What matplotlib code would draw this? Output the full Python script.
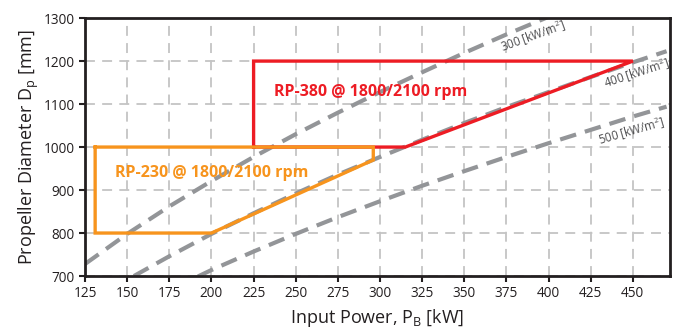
import matplotlib
matplotlib.use("Agg")
import matplotlib.pyplot as plt
from matplotlib import font_manager

fams = {f.name for f in font_manager.fontManager.ttflist}
base = 'Liberation Sans Narrow' if 'Liberation Sans Narrow' in fams else 'Open Sans'
plt.rcParams['font.family'] = [base, 'DejaVu Sans']
plt.rcParams['mathtext.fontset'] = 'custom'
plt.rcParams['mathtext.rm'] = base

# Power-density curves
p300 = [125, 150, 175, 200, 225, 250, 275, 300, 325, 350, 375, 400]
d300 = [728, 798, 862, 921, 977, 1030, 1080, 1128, 1174, 1219, 1262, 1303]
p400 = [154, 175, 200, 225, 250, 275, 300, 325, 350, 375, 400, 425, 450, 470]
d400 = [700, 746, 798, 846, 892, 936, 977, 1017, 1056, 1093, 1128, 1163, 1197, 1223]
p500 = [192, 200, 225, 250, 275, 300, 325, 350, 375, 400, 425, 450, 470]
d500 = [699, 714, 757, 798, 837, 874, 910, 944, 977, 1009, 1040, 1071, 1094]

# Operating envelopes
rp380_p = [225, 225, 450, 315, 296, 225]
rp380_d = [1000, 1200, 1200, 1000, 1000, 1000]
rp230_p = [131, 296, 296, 200, 131, 131]
rp230_d = [1000, 1000, 970, 800, 800, 1000]

xticks = list(range(125, 451, 25))
yticks = list(range(700, 1301, 100))

fig = plt.figure(figsize=(6.77, 3.29), dpi=100)
ax = fig.add_axes([0.1256, 0.161, 0.864, 0.784])

grid_c = '#c4c4c4'
for x in xticks:
    ax.axvline(x, color=grid_c, lw=1.3, ls=(0, (5.5, 4)), zorder=1)
for y in yticks:
    ax.axhline(y, color=grid_c, lw=1.3, ls=(0, (5.5, 4)), zorder=1)

curve_c = '#939598'
for p, d in [(p300, d300), (p400, d400), (p500, d500)]:
    ax.plot(p, d, color=curve_c, lw=3.0, ls=(0, (4, 2.2)), zorder=2, solid_capstyle='butt')

red = '#ED1C24'
orange = '#F7941D'
ax.plot(rp380_p, rp380_d, color=red, lw=2.4, zorder=3, solid_joinstyle='miter')
ax.plot(rp230_p, rp230_d, color=orange, lw=2.4, zorder=4, solid_joinstyle='miter')

ax.text(237, 1128, 'RP-380 @ 1800/2100 rpm', color=red, fontsize=11.5, fontweight='bold',
        va='center', ha='left', zorder=5)
ax.text(143, 940, 'RP-230 @ 1800/2100 rpm', color=orange, fontsize=11.5, fontweight='bold',
        va='center', ha='left', zorder=5)

lab_c = '#4d4d4f'
ax.text(391, 1258, '300 [kW/m$^2$]', color=lab_c, fontsize=8.3, rotation=20, ha='center', va='center', zorder=5)
ax.text(452, 1172, '400 [kW/m$^2$]', color=lab_c, fontsize=8.3, rotation=18, ha='center', va='center', zorder=5)
ax.text(449, 1037, '500 [kW/m$^2$]', color=lab_c, fontsize=8.3, rotation=16, ha='center', va='center', zorder=5)

ax.set_xlim(125, 472)
ax.set_ylim(700, 1300)
ax.set_xticks(xticks)
ax.set_yticks(yticks)
ax.tick_params(labelsize=9.8, width=1.5, length=4, direction='out', colors='#231f20')
for s in ax.spines.values():
    s.set_linewidth(2)
    s.set_color('#231f20')

ax.set_xlabel('Input Power, P$_\\mathregular{B}$ [kW]', fontsize=13, labelpad=4, color='#231f20')
ax.set_ylabel('Propeller Diameter D$_\\mathregular{p}$ [mm]', fontsize=13, labelpad=2, color='#231f20')

fig.savefig('out.png', dpi=100)
